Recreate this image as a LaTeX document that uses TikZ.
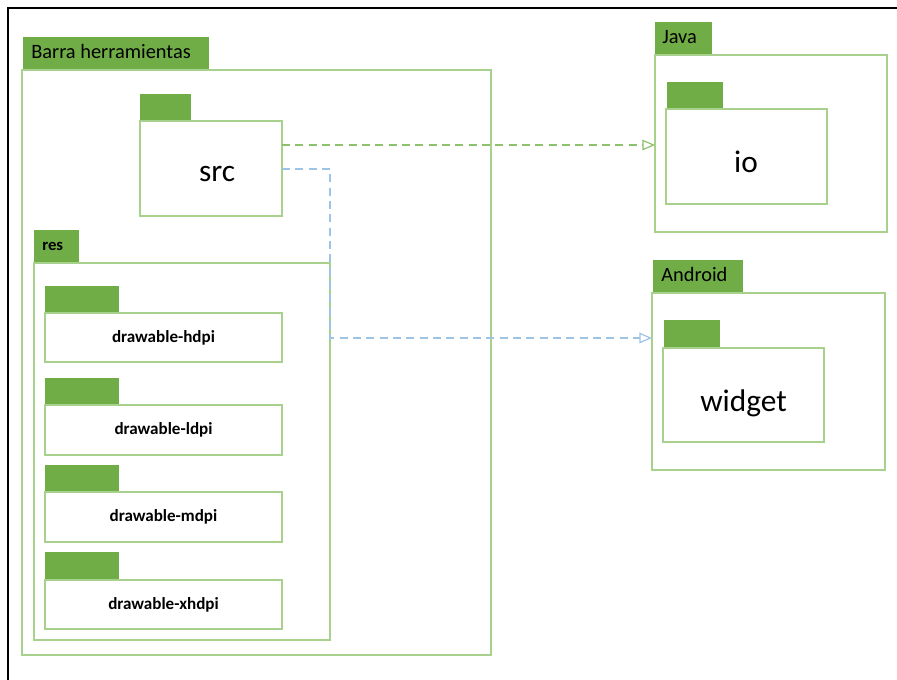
\documentclass[tikz,border=0pt]{standalone}
\usepackage{fontspec}
\setmainfont{Carlito}
\usetikzlibrary{arrows.meta}
\definecolor{tabgreen}{HTML}{70AD47}
\definecolor{lightgreen}{HTML}{A9D18E}
\definecolor{dashgreen}{HTML}{8EC16C}
\definecolor{dashblue}{HTML}{9DC3E6}
\begin{document}
\begin{tikzpicture}[x=0.75pt,y=-0.75pt,
  sz/.style args={#1/#2}{minimum width=#1*0.75pt, minimum height=#2*0.75pt},
  pkgbody/.style={draw=lightgreen, line width=1.1pt, fill=white, inner sep=0pt, outer sep=0pt, anchor=north west},
  pkgtab/.style={draw=tabgreen, line width=0.6pt, fill=tabgreen, inner sep=0pt, outer sep=0pt, anchor=north west},
  tablbl/.style={inner sep=0pt, anchor=base west, font=\fontsize{15.3}{18}\selectfont},
  reslbl/.style={inner sep=0pt, anchor=base west, font=\bfseries\fontsize{12.5}{15}\selectfont},
  biglbl/.style={inner sep=0pt, anchor=base, font=\fontsize{23.5}{28}\selectfont},
  drwlbl/.style={inner sep=0pt, anchor=base, font=\bfseries\fontsize{12.8}{15}\selectfont},
  deparrow/.style={line width=0.9pt, dash pattern=on 6pt off 4pt, -{Triangle[open, length=9.5pt, width=8pt]}}
]
\useasboundingbox (0,0) rectangle (897,680);
% frame
\draw[black, line width=1.5pt] (8,680) -- (8,8) -- (897,8);

% Barra herramientas
\node[pkgtab, sz=185/33] (barratab) at (23,37) {};
\node[pkgbody, sz=469/585] (barra) at (22,70) {};
\node[tablbl] (barralbl) at (31,59) {Barra herramientas};

% src
\node[pkgtab, sz=50/27] (srctab) at (140,94) {};
\node[pkgbody, sz=142/95] (src) at (140,121) {};
\node[biglbl] (srclbl) at (217,182) {src};

% res
\node[pkgtab, sz=44/33] (restab) at (34,230) {};
\node[pkgbody, sz=296/377] (res) at (34,263) {};
\node[reslbl] (reslabel) at (42,251) {res};

% drawables
\node[pkgtab, sz=73/27] (hdpitab) at (45,286) {};
\node[pkgbody, sz=237/49] (hdpi) at (45,313) {};
\node[drwlbl] (hdpilbl) at (163.5,342.7) {drawable-hdpi};

\node[pkgtab, sz=73/27] (ldpitab) at (45,378) {};
\node[pkgbody, sz=237/50] (ldpi) at (45,405) {};
\node[drwlbl] (ldpilbl) at (163.5,435) {drawable-ldpi};

\node[pkgtab, sz=73/27] (mdpitab) at (45,465) {};
\node[pkgbody, sz=237/50] (mdpi) at (45,492) {};
\node[drwlbl] (mdpilbl) at (163.5,522) {drawable-mdpi};

\node[pkgtab, sz=73/28] (xhdpitab) at (45,552) {};
\node[pkgbody, sz=237/49] (xhdpi) at (45,580) {};
\node[drwlbl] (xhdpilbl) at (163.5,610) {drawable-xhdpi};

% Java
\node[pkgtab, sz=56/33] (javatab) at (655,22) {};
\node[pkgbody, sz=232/177] (java) at (655,55) {};
\node[tablbl] (javalbl) at (662,44) {Java};
\node[pkgtab, sz=55/27] (iotab) at (667,82) {};
\node[pkgbody, sz=161/95] (io) at (666,109) {};
\node[biglbl] (iolbl) at (746,173) {io};

% Android
\node[pkgtab, sz=89/33] (androidtab) at (653,260) {};
\node[pkgbody, sz=233/177] (android) at (652,293) {};
\node[tablbl] (androidlbl) at (661,282) {Android};
\node[pkgtab, sz=55/28] (widgettab) at (664,320) {};
\node[pkgbody, sz=161/94] (widget) at (663,348) {};
\node[biglbl] (widgetlbl) at (743.5,411.7) {widget};

% dependencies
\draw[deparrow, draw=dashgreen] ([yshift=-24*0.75pt]src.north east) coordinate (g1) -- (g1 -| java.west);
\draw[deparrow, draw=dashblue] ([yshift=-48*0.75pt]src.north east) coordinate (b1) -- (res.east |- b1) |- ([yshift=-45*0.75pt]android.north west);
\end{tikzpicture}
\end{document}
